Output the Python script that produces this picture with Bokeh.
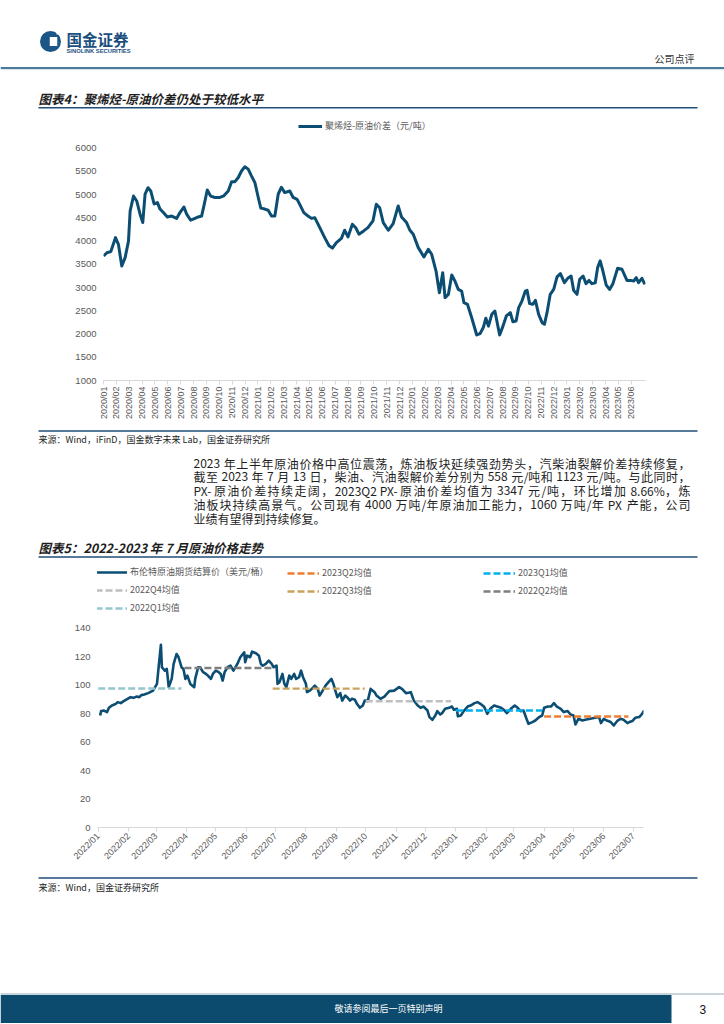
import numpy as np
import pandas as pd
from bokeh.plotting import figure
from bokeh.models import Range1d, FixedTicker, Legend, LegendItem
from bokeh.layouts import column
from bokeh.core.properties import value
from bokeh.embed import file_html
from bokeh.resources import INLINE

# ---------------- data : chart 1 (polyolefin - crude spread, yuan/t) ----------------
spread_ticks = ["2020/01", "2020/02", "2020/03", "2020/04", "2020/05", "2020/06", "2020/07",
                "2020/08", "2020/09", "2020/10", "2020/11", "2020/12", "2021/01", "2021/02",
                "2021/03", "2021/04", "2021/05", "2021/06", "2021/07", "2021/08", "2021/09",
                "2021/10", "2021/11", "2021/12", "2022/01", "2022/02", "2022/03", "2022/04",
                "2022/05", "2022/06", "2022/07", "2022/08", "2022/09", "2022/10", "2022/11",
                "2022/12", "2023/01", "2023/02", "2023/03", "2023/04", "2023/05", "2023/06"]
spread_pos = [0.00, 0.26, 0.57, 0.72, 0.93, 1.16, 1.42, 1.68, 1.94, 2.07,
              2.33, 2.58, 2.84, 3.05, 3.23, 3.46, 3.67, 3.93, 4.19, 4.39,
              4.65, 4.96, 5.30, 5.68, 5.94, 6.25, 6.46, 6.77, 7.11, 7.36,
              7.62, 7.80, 8.06, 8.32, 8.66, 9.04, 9.35, 9.69, 9.95, 10.21,
              10.47, 10.72, 10.98, 11.24, 11.50, 11.76, 12.02, 12.22, 12.53, 12.79,
              13.05, 13.31, 13.57, 13.82, 14.08, 14.47, 14.73, 15.04, 15.30, 15.56,
              15.89, 16.15, 16.41, 16.80, 17.18, 17.52, 17.78, 18.09, 18.48, 18.73,
              18.99, 19.33, 19.59, 19.84, 20.21, 20.54, 20.93, 21.19, 21.45, 21.73,
              22.12, 22.50, 22.89, 23.15, 23.54, 23.80, 24.06, 24.45, 24.89, 25.23,
              25.49, 25.83, 26.09, 26.35, 26.53, 26.79, 27.05, 27.30, 27.56, 27.82,
              28.00, 28.27, 28.60, 28.99, 29.25, 29.50, 29.70, 29.90, 30.16, 30.40,
              30.77, 31.03, 31.29, 31.60, 31.80, 32.05, 32.25, 32.50, 32.77, 32.90,
              33.10, 33.36, 33.55, 33.80, 34.07, 34.25, 34.45, 34.70, 34.97, 35.23,
              35.49, 35.80, 36.06, 36.32, 36.52, 36.78, 36.99, 37.25, 37.48, 37.71,
              37.94, 38.20, 38.38, 38.58, 38.79, 39.05, 39.31, 39.57, 39.93, 40.27,
              40.66, 40.97, 41.18, 41.38, 41.56, 41.82, 42.05]
spread_val = [3680, 3750, 3775, 3900, 4075, 3930, 3465, 3645, 4000, 4650,
              4970, 4865, 4580, 4400, 5010, 5150, 5080, 4800, 4830, 4690,
              4615, 4520, 4540, 4490, 4615, 4735, 4580, 4450, 4490, 4520,
              4540, 4760, 5100, 4970, 4940, 4940, 4975, 5080, 5280, 5280,
              5370, 5510, 5600, 5550, 5400, 5260, 4940, 4710, 4690, 4665,
              4540, 4540, 5010, 5160, 5045, 5080, 4940, 4900, 4760, 4615,
              4540, 4490, 4505, 4290, 4075, 3900, 3850, 3970, 4060, 4235,
              4090, 4365, 4290, 4150, 4220, 4290, 4435, 4795, 4720, 4400,
              4234, 4377, 4758, 4520, 4400, 4234, 4150, 3860, 3660, 3825,
              3717, 3357, 2890, 3320, 2783, 2855, 3270, 3140, 2960, 2925,
              2675, 2640, 2350, 1980, 2010, 2140, 2340, 2170, 2425, 2495,
              1980, 2170, 2390, 2460, 2265, 2280, 2570, 2710, 2925, 2940,
              2655, 2640, 2725, 2425, 2245, 2210, 2460, 2855, 2960, 3230,
              3300, 3105, 3200, 3250, 2940, 2855, 3180, 3250, 3085, 3155,
              3085, 3105, 3430, 3575, 3357, 3055, 2960, 3085, 3415, 3395,
              3155, 3155, 3140, 3215, 3105, 3200, 3070]
spread_yticks = [1000, 1500, 2000, 2500, 3000, 3500, 4000, 4500, 5000, 5500, 6000]
spread_label = "聚烯烃-原油价差（元/吨）"

# ---------------- data : chart 2 (Brent, USD/bbl) ----------------
brent_ticks = ["2022/01", "2022/02", "2022/03", "2022/04", "2022/05", "2022/06", "2022/07",
               "2022/08", "2022/09", "2022/10", "2022/11", "2022/12", "2023/01", "2023/02",
               "2023/03", "2023/04", "2023/05", "2023/06", "2023/07"]
brent_dates = ["2022-01-03", "2022-01-04", "2022-01-07", "2022-01-10", "2022-01-12", "2022-01-15",
               "2022-01-19", "2022-01-21", "2022-01-24", "2022-01-27", "2022-01-31", "2022-02-03",
               "2022-02-06", "2022-02-09", "2022-02-12", "2022-02-14", "2022-02-17", "2022-02-21",
               "2022-02-23", "2022-02-26", "2022-02-28", "2022-03-02", "2022-03-04", "2022-03-06",
               "2022-03-07", "2022-03-10", "2022-03-12", "2022-03-14", "2022-03-17", "2022-03-19",
               "2022-03-22", "2022-03-24", "2022-03-27", "2022-03-29", "2022-03-31", "2022-04-02",
               "2022-04-05", "2022-04-09", "2022-04-10", "2022-04-13", "2022-04-15", "2022-04-18",
               "2022-04-21", "2022-04-23", "2022-04-26", "2022-04-28", "2022-05-01", "2022-05-04",
               "2022-05-06", "2022-05-08", "2022-05-10", "2022-05-13", "2022-05-16", "2022-05-19",
               "2022-05-23", "2022-05-26", "2022-05-30", "2022-05-31", "2022-06-02", "2022-06-05",
               "2022-06-07", "2022-06-11", "2022-06-14", "2022-06-16", "2022-06-18", "2022-06-21",
               "2022-06-24", "2022-06-27", "2022-06-29", "2022-07-02", "2022-07-03", "2022-07-05",
               "2022-07-08", "2022-07-10", "2022-07-12", "2022-07-15", "2022-07-17", "2022-07-20",
               "2022-07-22", "2022-07-25", "2022-07-27", "2022-07-29", "2022-08-01", "2022-08-02",
               "2022-08-05", "2022-08-07", "2022-08-10", "2022-08-13", "2022-08-15", "2022-08-18",
               "2022-08-21", "2022-08-24", "2022-08-27", "2022-08-29", "2022-08-31", "2022-09-02",
               "2022-09-05", "2022-09-07", "2022-09-10", "2022-09-12", "2022-09-15", "2022-09-17",
               "2022-09-20", "2022-09-22", "2022-09-25", "2022-09-28", "2022-09-30", "2022-10-03",
               "2022-10-06", "2022-10-10", "2022-10-12", "2022-10-16", "2022-10-20", "2022-10-25",
               "2022-10-30", "2022-11-04", "2022-11-07", "2022-11-11", "2022-11-16", "2022-11-19",
               "2022-11-23", "2022-11-26", "2022-11-29", "2022-12-03", "2022-12-05", "2022-12-08",
               "2022-12-11", "2022-12-13", "2022-12-16", "2022-12-18", "2022-12-21", "2022-12-25",
               "2022-12-28", "2022-12-30", "2023-01-02", "2023-01-03", "2023-01-06", "2023-01-09",
               "2023-01-13", "2023-01-16", "2023-01-20", "2023-01-23", "2023-01-26", "2023-01-30",
               "2023-02-02", "2023-02-05", "2023-02-09", "2023-02-12", "2023-02-16", "2023-02-19",
               "2023-02-22", "2023-02-26", "2023-03-02", "2023-03-05", "2023-03-08", "2023-03-11",
               "2023-03-14", "2023-03-16", "2023-03-20", "2023-03-23", "2023-03-27", "2023-03-30",
               "2023-04-01", "2023-04-05", "2023-04-08", "2023-04-11", "2023-04-14", "2023-04-18",
               "2023-04-21", "2023-04-25", "2023-04-28", "2023-05-01", "2023-05-03", "2023-05-06",
               "2023-05-10", "2023-05-13", "2023-05-18", "2023-05-23", "2023-05-27", "2023-05-29",
               "2023-06-01", "2023-06-04", "2023-06-08", "2023-06-11", "2023-06-15", "2023-06-18",
               "2023-06-21", "2023-06-25", "2023-06-27", "2023-06-30", "2023-07-03", "2023-07-07",
               "2023-07-10", "2023-07-12"]
brent_vals = [78.6, 81.7, 82.1, 81.0, 84.0, 85.6, 86.8, 88.0, 87.3, 88.7, 90.3, 91.5,
              91.0, 91.9, 91.5, 92.9, 93.3, 94.3, 95.0, 96.1, 98.5, 100.8, 114.8, 128.3,
              112.5, 110.1, 111.3, 98.5, 104.3, 114.8, 121.8, 119.5, 112.5, 111.3, 104.3, 106.6,
              100.8, 98.5, 104.3, 112.5, 112.5, 109.0, 107.8, 106.6, 104.3, 107.8, 110.1, 109.0,
              107.8, 103.1, 109.0, 112.5, 113.6, 110.1, 114.8, 119.5, 123.0, 116.0, 120.6, 119.5,
              123.4, 122.3, 120.6, 114.8, 113.6, 114.8, 117.1, 114.8, 112.5, 113.6, 100.8, 102.0,
              107.8, 100.8, 98.5, 106.6, 104.3, 107.8, 104.3, 105.5, 110.1, 105.5, 100.8, 95.0,
              96.1, 97.3, 99.6, 97.3, 92.6, 96.1, 99.6, 102.0, 104.3, 100.8, 96.1, 91.5,
              94.3, 89.1, 92.6, 91.5, 89.1, 90.3, 89.6, 86.8, 84.0, 85.6, 89.1, 88.7,
              97.3, 95.0, 92.6, 90.3, 91.9, 95.7, 96.1, 98.5, 97.3, 94.3, 95.0, 89.1,
              85.6, 84.0, 84.9, 82.1, 77.5, 75.6, 78.6, 81.7, 79.3, 80.3, 83.3, 84.0,
              84.9, 82.6, 83.3, 78.0, 78.6, 81.7, 84.9, 85.6, 87.3, 88.0, 86.8, 84.5,
              79.8, 83.3, 85.6, 84.9, 84.0, 82.6, 80.3, 83.3, 85.6, 84.0, 81.7, 82.1,
              76.3, 72.8, 74.0, 75.1, 77.5, 78.6, 84.0, 84.9, 84.9, 87.3, 84.9, 83.3,
              81.0, 81.7, 79.3, 78.6, 72.3, 76.3, 75.1, 75.6, 76.3, 77.0, 77.5, 73.3,
              76.3, 75.1, 74.0, 71.6, 75.1, 76.3, 75.6, 73.3, 74.0, 74.7, 77.0, 77.5,
              79.8, 82.1]
brent_label = "布伦特原油期货结算价（美元/桶）"
brent_yticks = [0, 20, 40, 60, 80, 100, 120, 140]

q_labels = ["2023Q2均值", "2023Q1均值", "2022Q4均值", "2022Q3均值", "2022Q2均值", "2022Q1均值"]
q_means = [77.9, 82.1, 88.6, 97.5, 112.0, 97.6]
q_start = ["2023-04-01", "2023-01-01", "2022-10-01", "2022-06-28", "2022-03-30", "2022-01-01"]
q_end = ["2023-06-26", "2023-03-30", "2022-12-27", "2022-09-30", "2022-06-30", "2022-03-27"]
q_colors = ["#ED7D31", "#00B0F0", "#BFBFBF", "#C9A35C", "#7F7F7F", "#95C8CE"]

# ---------------- styling ----------------
CJK = "Noto Sans CJK SC"
LAT = "Liberation Sans"
SERIES = "#0C4E73"
NAVY = "#1F4E78"
TXT = "#1E1E1E"
GRAY = "#595959"
AXIS = "#D9D9D9"
W = 724


def deco(top, bottom):
    p = figure(width=W, height=bottom - top, x_range=Range1d(0, W), y_range=Range1d(bottom, top),
               x_axis_type=None, y_axis_type=None, toolbar_location=None, output_backend="svg",
               min_border=0, min_border_left=0, min_border_right=0, min_border_top=0,
               min_border_bottom=0, outline_line_color=None, frame_align=False)
    p.grid.visible = False
    return p


def txt(p, x, y, s, size, color=TXT, font=CJK, style="normal", align="left"):
    p.text(x=[x], y=[y], text=[s], text_font=value(font), text_font_size=size, text_color=color,
           text_font_style=style, text_align=align, text_baseline="middle")


def rule(p, x0, x1, y, color, w):
    p.segment(x0=[x0], y0=[y], x1=[x1], y1=[y], line_color=color, line_width=w)


def char_em(ch):
    if ord(ch) >= 0x2E80:
        return 1.0
    if ch.isdigit():
        return 0.553
    if ch == " ":
        return 0.25
    if ch in "/-":
        return 0.34
    if ch == ".":
        return 0.25
    if ch == "%":
        return 0.86
    if ch.isupper():
        return 0.62
    return 0.5


def justified(p, x0, x1, y, s, px, justify=True):
    # tokens: single CJK chars or runs of latin; spaces only add advance
    toks, adv = [], []
    prev_latin = False
    for ch in s:
        w = char_em(ch) * px
        if ch == " ":
            if adv:
                adv[-1] += w
            prev_latin = False
            continue
        latin = ord(ch) < 0x2E80
        if latin and prev_latin:
            toks[-1] += ch
            adv[-1] += w
        else:
            toks.append(ch)
            adv.append(w)
        prev_latin = latin
    natural = sum(adv)
    extra = (x1 - x0 - natural) / (len(toks) - 1) if (justify and len(toks) > 1) else 0.0
    xs, cur = [], x0
    for a in adv:
        xs.append(cur)
        cur += a + extra
    p.text(x=xs, y=[y] * len(toks), text=toks, text_font=value(CJK), text_font_size=f"{px}px",
           text_color=TXT, text_align="left", text_baseline="middle")


def style_axes(p, xlabel_size, ylabel_size):
    p.grid.visible = False
    xa = p.xaxis[0]
    xa.axis_line_color = AXIS
    xa.major_tick_line_color = AXIS
    xa.major_tick_out = 4
    xa.major_tick_in = 0
    xa.minor_tick_line_color = None
    xa.major_label_text_font = LAT
    xa.major_label_text_font_size = xlabel_size
    xa.major_label_text_color = GRAY
    ya = p.yaxis[0]
    ya.axis_line_color = None
    ya.major_tick_line_color = None
    ya.minor_tick_line_color = None
    ya.major_tick_out = 0
    ya.major_label_standoff = 7
    ya.major_label_text_font = LAT
    ya.major_label_text_font_size = ylabel_size
    ya.major_label_text_color = GRAY


def make_legend(items, x, y, gw):
    lg = Legend(items=items, location=(x, y), orientation="vertical")
    lg.padding = 0
    lg.margin = 0
    lg.spacing = 5
    lg.glyph_width = gw
    lg.glyph_height = 12
    lg.label_height = 12
    lg.label_standoff = 3
    lg.border_line_color = None
    lg.background_fill_alpha = 0
    lg.label_text_font = CJK
    lg.label_text_font_size = "9px"
    lg.label_text_color = GRAY
    return lg


# ---------------- header (page y 0..115) ----------------
pa = deco(0, 115)
pa.circle(x=[50], y=[41], radius=10.5, fill_color="#1B5687", line_color=None)
pa.rect(x=[53], y=[41], width=7.5, height=9, fill_color="white", line_color=None)
pa.rect(x=[58.5], y=[31.5], width=5, height=5, fill_color="white", line_color=None)
txt(pa, 66, 38.5, "国金证券", "15.5px", color="#1B4F7E", style="bold")
txt(pa, 66, 50, "SINOLINK SECURITIES", "5.8px", color="#1B4F7E", font=LAT, style="bold")
txt(pa, 694, 58, "公司点评", "10px", color="#333333", align="right")
rule(pa, 0, 724, 67.5, "#4A7A9C", 2)
rule(pa, 0, 724, 69.2, "#D5E0E8", 1)
txt(pa, 38, 97.5, "图表4：聚烯烃-原油价差仍处于较低水平", "12.5px", style="bold italic")
rule(pa, 38, 697, 107.3, NAVY, 1.5)

# ---------------- chart 1 (page y 115..428) ----------------
p1 = figure(width=W, height=313, x_range=Range1d(0, 42.1), y_range=Range1d(1000, 6640),
            toolbar_location=None, output_backend="svg", min_border_left=103, min_border_right=79,
            min_border_top=3, min_border_bottom=48, outline_line_color=None, frame_align=False)
r1 = p1.line(spread_pos, spread_val, line_color=SERIES, line_width=3, line_join="round")
style_axes(p1, "9px", "9.5px")
p1.xaxis[0].ticker = FixedTicker(ticks=list(range(len(spread_ticks))))
p1.xaxis[0].major_label_overrides = {i: t for i, t in enumerate(spread_ticks)}
p1.xaxis[0].major_label_orientation = np.pi / 2
p1.xaxis[0].major_label_standoff = 2
p1.yaxis[0].ticker = FixedTicker(ticks=spread_yticks)
p1.add_layout(make_legend([LegendItem(label=spread_label, renderers=[r1])], 195, 248, 24))

# ---------------- middle text (page y 428..562) ----------------
pc = deco(428, 562)
rule(pc, 38, 697, 430.5, NAVY, 1.5)
txt(pc, 38, 439, "来源：Wind，iFinD，国金数字未来 Lab，国金证券研究所", "9px")
para = ["2023 年上半年原油价格中高位震荡，炼油板块延续强劲势头，汽柴油裂解价差持续修复，",
        "截至 2023 年 7 月 13 日，柴油、汽油裂解价差分别为 558 元/吨和 1123 元/吨。与此同时，",
        "PX-原油价差持续走阔，2023Q2 PX-原油价差均值为 3347 元/吨，环比增加 8.66%，炼",
        "油板块持续高景气。公司现有 4000 万吨/年原油加工能力，1060 万吨/年 PX 产能，公司",
        "业绩有望得到持续修复。"]
for i, line in enumerate(para):
    justified(pc, 193, 690, 462.5 + i * 13.8, line, 12, justify=(i < len(para) - 1))
txt(pc, 38, 546.5, "图表5：2022-2023 年 7 月原油价格走势", "12.5px", style="bold italic")
rule(pc, 38, 697, 556.5, NAVY, 1.5)

# ---------------- chart 2 (page y 562..872) ----------------
base = pd.Timestamp("2022-01-01")
brent_x = [(pd.Timestamp(d) - base).days for d in brent_dates]
tick_days = [(pd.Timestamp(t.replace("/", "-") + "-01") - base).days for t in brent_ticks]

p2 = figure(width=W, height=310, x_range=Range1d(-0.7, 556.4), y_range=Range1d(0, 183.9),
            toolbar_location=None, output_backend="svg", min_border_left=97, min_border_right=81,
            min_border_top=3, min_border_bottom=45, outline_line_color=None, frame_align=False)
rb = p2.line(brent_x, brent_vals, line_color=SERIES, line_width=2.6, line_join="round")
q_rs = []
for lbl, m, s, e, c in zip(q_labels, q_means, q_start, q_end, q_colors):
    xs = [(pd.Timestamp(s) - base).days, (pd.Timestamp(e) - base).days]
    q_rs.append(p2.line(xs, [m, m], line_color=c, line_width=2.4, line_dash="7 3"))
style_axes(p2, "9px", "9.5px")
p2.xaxis[0].ticker = FixedTicker(ticks=tick_days)
p2.xaxis[0].major_label_overrides = {d: t for d, t in zip(tick_days, brent_ticks)}
p2.xaxis[0].major_label_orientation = np.pi / 4
p2.xaxis[0].major_label_standoff = 3
p2.yaxis[0].ticker = FixedTicker(ticks=brent_yticks)

all_items = [LegendItem(label=brent_label, renderers=[rb])] + \
            [LegendItem(label=l, renderers=[r]) for l, r in zip(q_labels, q_rs)]
col_x = [-2, 190, 386]
col_y = [213, 230, 230]
for k in range(3):
    p2.add_layout(make_legend(all_items[k::3], col_x[k], col_y[k], 32))

# ---------------- bottom (page y 872..1024) ----------------
pe = deco(872, 1024)
rule(pe, 38, 697, 877.5, NAVY, 1.5)
txt(pe, 38, 886.5, "来源：Wind，国金证券研究所", "9px")
rule(pe, 0, 724, 993.5, "#C9D4DD", 2)
pe.quad(left=[0], right=[671], top=[994.5], bottom=[1022.5], fill_color="#0C4A6E", line_color=None)
txt(pe, 334, 1008, "敬请参阅最后一页特别声明", "9px", color="white")
txt(pe, 699, 1008.5, "3", "12px", color="#111111", font=LAT)

layout = column(pa, p1, pc, p2, pe, spacing=0)
open("out.html", "w").write(file_html(layout, INLINE))
